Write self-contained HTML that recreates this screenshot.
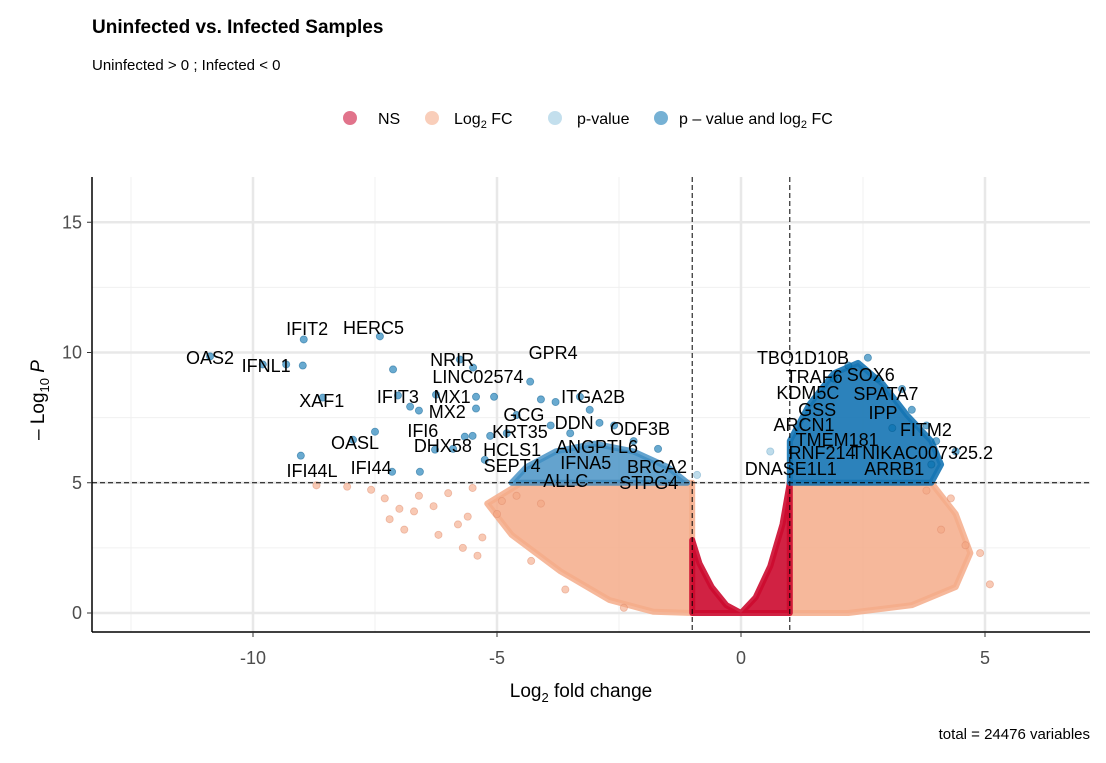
<!DOCTYPE html>
<html><head><meta charset="utf-8"><style>
body{margin:0;background:#fff;font-family:"Liberation Sans",sans-serif}
svg text{font-family:"Liberation Sans",sans-serif}
</style></head><body>
<svg id="chart" width="1106" height="758" xmlns="http://www.w3.org/2000/svg">
<rect width="1106" height="758" fill="#fff"/>
<text x="92" y="33" font-size="19" font-weight="bold">Uninfected vs. Infected Samples</text>
<text x="92" y="70" font-size="15">Uninfected &gt; 0 ; Infected &lt; 0</text>
<g font-size="16">
<g><circle cx="350" cy="118" r="7" fill="#c9002b" fill-opacity="0.55"/><text x="378" y="124">NS</text></g>
<g><circle cx="432" cy="118" r="7" fill="#f4a582" fill-opacity="0.55"/><text x="454" y="124">Log<tspan font-size="11" dy="4">2</tspan><tspan dy="-4"> FC</tspan></text></g>
<g><circle cx="555" cy="118" r="7" fill="#92c5de" fill-opacity="0.55"/><text x="577" y="124">p-value</text></g>
<g><circle cx="661" cy="118" r="7" fill="#0571b0" fill-opacity="0.55"/><text x="679" y="124">p – value and log<tspan font-size="11" dy="4">2</tspan><tspan dy="-4"> FC</tspan></text></g>
</g>
<g id="grid"></g>
<g id="marks"></g>
<g id="labels" font-size="18"></g>
<g id="axes"></g>
<text x="581" y="697" font-size="19" text-anchor="middle" fill="#000">Log<tspan font-size="13" dy="5">2</tspan><tspan dy="-5"> fold change</tspan></text>
<text transform="translate(44,400) rotate(-90)" font-size="19" text-anchor="middle">– Log<tspan font-size="13" dy="5">10</tspan><tspan dy="-5"> </tspan><tspan font-style="italic">P</tspan></text>
<text x="1090" y="739" font-size="15" text-anchor="end">total = 24476 variables</text>
</svg>
<script>
const xTicks=[-10,-5,0,5];
const yTicks=[0,5,10,15];
const xMinor=[-12.5,-7.5,-2.5,2.5];
const yMinor=[2.5,7.5,12.5];
const fcCut=[-1,1];
const pCut=5;
// envelopes of dense point clouds [x,y] in data units
const nsEnvelope=[[-1,0],[-1,2.8],[-0.85,1.9],[-0.6,1],[-0.3,0.3],[0,0],[0.3,0.6],[0.6,1.8],[0.85,3.4],[1,5],[1,0]];
const fcLeftEnvelope=[[-1,0],[-1,5],[-3.2,5],[-4.5,5],[-5.2,4.2],[-4.7,3],[-3.7,1.6],[-2.7,0.5],[-1.8,0.05]];
const fcRightEnvelope=[[1,0],[1,5],[3.9,5],[4.4,3.8],[4.7,2.3],[4.4,1],[3.5,0.3],[2.2,0]];
const bothRightEnvelope=[[1,5],[1,6.6],[1.4,8],[1.9,9.2],[2.4,9.6],[2.9,8.8],[3.4,7.6],[3.9,6.6],[4.1,5.7],[3.9,5]];
const bothLeftEnvelope=[[-1.1,5],[-1.5,5.6],[-2.2,6.2],[-3,6.5],[-3.8,6.2],[-4.4,5.6],[-4.7,5]];
// scattered points
const bothX=[-8.96,-7.40,-10.88,-9.8,-9.32,-8.98,-7.13,-8.57,-7.03,-6.78,-6.6,-6.25,-5.43,-5.06,-5.76,-5.49,-4.32,-5.43,-7.5,-5.66,-5.5,-6.27,-5.9,-7.95,-9.02,-7.15,-6.58,-5.25,-5.14,-4.1,-3.8,-3.3,-3.1,-2.6,-2.2,-1.7,-4.6,-3.9,-2.9,-4.8,-3.5,2.6,2.2,3.3,3.5,3.8,4.4,3.9,3.1,4.0,2.8,1.9];
const bothY=[10.5,10.62,9.85,9.54,9.54,9.5,9.35,8.27,8.35,7.92,7.77,8.38,8.3,8.3,9.73,9.42,8.88,7.85,6.96,6.77,6.8,6.27,6.3,6.65,6.04,5.42,5.42,5.88,6.8,8.2,8.1,8.3,7.8,7.2,6.6,6.3,7.6,7.2,7.3,6.9,6.9,9.8,9.5,8.6,7.8,7.2,6.2,5.7,7.1,6.6,9.0,9.0];
const fcX=[-8.07,-7.58,-6.3,-5.6,-4.3,-4.6,-7.2,-6.9,-5.3,-4.9,-3.6,-2.4,4.6,4.9,5.1,4.3,4.1,3.8,-8.7,-6.0,-5.8,-6.6,-5.5,-7.0,-6.2,-5.0,-5.7,-4.1,-6.7,-7.3,-5.4];
const fcY=[4.85,4.73,4.1,3.7,2.0,4.5,3.6,3.2,2.9,4.3,0.9,0.2,2.6,2.3,1.1,4.4,3.2,4.7,4.9,4.6,3.4,4.5,4.8,4.0,3.0,3.8,2.5,4.2,3.9,4.4,2.2];
const pvalX=[0.6,-0.9];
const pvalY=[6.2,5.3];
const genes=["IFIT2","HERC5","OAS2","IFNL1","XAF1","IFIT3","MX1","NRIR","LINC02574","MX2","IFI6","DHX58","OASL","IFI44L","IFI44","GPR4","ITGA2B","GCG","DDN","KRT35","ODF3B","ANGPTL6","HCLS1","IFNA5","SEPT4","BRCA2","ALLC","STPG4","TBO1D10B","TRAF6","SOX6","KDM5C","SPATA7","GSS","IPP","ARCN1","FITM2","TMEM181","RNF214","TNIK","AC007325.2","DNASE1L1","ARRB1"];
const labelX=[-8.89,-7.53,-10.88,-9.73,-8.59,-7.03,-5.92,-5.92,-5.39,-6.02,-6.52,-6.11,-7.91,-8.79,-7.58,-3.85,-3.03,-4.45,-3.42,-4.53,-2.07,-2.95,-4.69,-3.18,-4.69,-1.72,-3.59,-1.89,1.27,1.50,2.66,1.37,2.97,1.56,2.91,1.29,3.79,1.97,1.66,2.68,4.14,1.02,3.14];
const labelY=[10.67,10.71,9.56,9.25,7.91,8.06,8.06,9.48,8.83,7.49,6.76,6.18,6.30,5.22,5.34,9.75,8.06,7.37,7.06,6.72,6.83,6.14,6.03,5.53,5.41,5.37,4.84,4.76,9.56,8.83,8.91,8.21,8.18,7.56,7.45,6.99,6.79,6.41,5.91,5.91,5.91,5.30,5.30];

const X0=741,XS=48.8,Y0=613,YS=26.05;
const L=92,R=1090,T=177,B=632;
const sx=v=>X0+v*XS, sy=v=>Y0-v*YS;
const NS="http://www.w3.org/2000/svg";
function mk(tag,attrs,parent){const e=document.createElementNS(NS,tag);for(const k in attrs)e.setAttribute(k,attrs[k]);parent.appendChild(e);return e;}
const grid=document.getElementById('grid'),marks=document.getElementById('marks'),labels=document.getElementById('labels'),axes=document.getElementById('axes');
xMinor.forEach(v=>{const l=mk('line',{x1:sx(v),x2:sx(v),y1:T,y2:B,stroke:'#f0f0f0','stroke-width':1},grid);});
yMinor.forEach(v=>{const l=mk('line',{x1:L,x2:R,y1:sy(v),y2:sy(v),stroke:'#f0f0f0','stroke-width':1},grid);});
xTicks.forEach(v=>{const l=mk('line',{x1:sx(v),x2:sx(v),y1:T,y2:B,stroke:'#e8e8e8','stroke-width':2.5},grid);});
yTicks.forEach(v=>{const l=mk('line',{x1:L,x2:R,y1:sy(v),y2:sy(v),stroke:'#e8e8e8','stroke-width':2.5},grid);});
function poly(env,fill,op,name){const p=mk('polygon',{points:env.map(d=>sx(d[0])+','+sy(d[1])).join(' '),fill:fill,'fill-opacity':op,stroke:fill,'stroke-opacity':op,'stroke-width':6,'stroke-linejoin':'round'},marks);

}
poly(fcLeftEnvelope,'#f4ab8a',0.85,'fc-cloud-left');
poly(fcRightEnvelope,'#f4ab8a',0.85,'fc-cloud-right');
poly(nsEnvelope,'#cc0a2f',0.9,'ns-cloud');
poly(bothRightEnvelope,'#1574b4',0.9,'significant-cloud-right');
poly(bothLeftEnvelope,'#3d8cc2',0.8,'significant-cloud-left');
function pts(xs,ys,fill,stroke,name){xs.forEach((x,i)=>{const c=mk('circle',{cx:sx(x),cy:sy(ys[i]),r:3.6,fill:fill,'fill-opacity':0.6,stroke:stroke,'stroke-opacity':0.5,'stroke-width':0.8},marks);

});}
pts(fcX,fcY,'#f4a582','#e08a6a','fc-point');
pts(pvalX,pvalY,'#92c5de','#6aa6c8','pvalue-point');
pts(bothX,bothY,'#0571b0','#045a8d','significant-point');
fcCut.forEach(v=>{const l=mk('line',{x1:sx(v),x2:sx(v),y1:T,y2:B,stroke:'#000','stroke-width':1,'stroke-dasharray':'5,3'},marks);});
{const l=mk('line',{x1:L,x2:R,y1:sy(pCut),y2:sy(pCut),stroke:'#000','stroke-width':1,'stroke-dasharray':'5,3'},marks);}
genes.forEach((g,i)=>{const t=mk('text',{x:sx(labelX[i]),y:sy(labelY[i]),'text-anchor':'middle'},labels);t.textContent=g;

});
{const a=mk('line',{x1:L,x2:L,y1:T,y2:B,stroke:'#000','stroke-width':1.5},axes);
const b=mk('line',{x1:L,x2:R,y1:B,y2:B,stroke:'#000','stroke-width':1.5},axes);}
xTicks.forEach(v=>{mk('line',{x1:sx(v),x2:sx(v),y1:B,y2:B+5,stroke:'#333'},axes);const t=mk('text',{x:sx(v),y:B+32,'text-anchor':'middle','font-size':18,fill:'#4d4d4d'},axes);t.textContent=v<0?'-'+Math.abs(v):v;

});
yTicks.forEach(v=>{mk('line',{x1:L-5,x2:L,y1:sy(v),y2:sy(v),stroke:'#333'},axes);const t=mk('text',{x:L-10,y:sy(v)+6,'text-anchor':'end','font-size':18,fill:'#4d4d4d'},axes);t.textContent=v;

});
</script>
</body></html>
